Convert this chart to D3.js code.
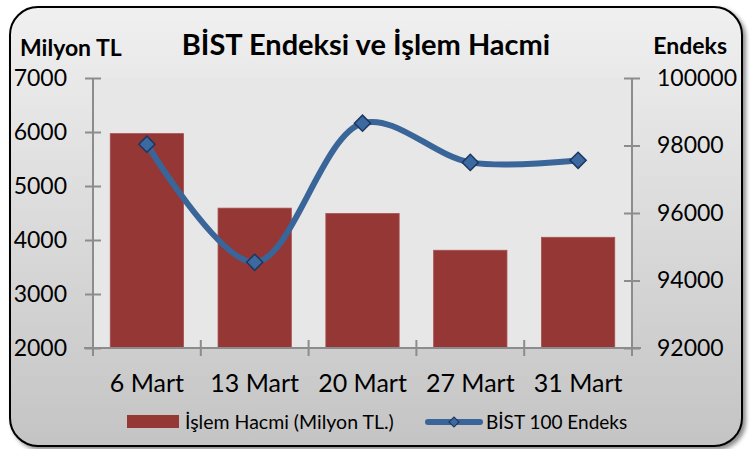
<!DOCTYPE html>
<html>
<head>
  <meta charset="utf-8">
  <title>BİST Endeksi ve İşlem Hacmi</title>
  <script src="https://d3js.org/d3.v7.min.js"></script>
  <style>
    body { margin: 0; background: #fff; }
    text { font-family: Lato, "Open Sans", sans-serif; fill: #000; }
    .axis path, .axis line { stroke: #8c8c8c; stroke-width: 2; }
  </style>
</head>
<body>
  <script>
    var dates = ["6 Mart", "13 Mart", "20 Mart", "27 Mart", "31 Mart"];
    var volume = [5970, 4590, 4490, 3810, 4050];
    var bist100 = [98040, 94540, 98660, 97500, 97560];
    var volumeTicks = [2000, 3000, 4000, 5000, 6000, 7000];
    var indexTicks = [92000, 94000, 96000, 98000, 100000];

    var W = 753, H = 449;
    var margin = {top: 78, right: 121, bottom: 101, left: 93},
        width = W - margin.left - margin.right,
        height = H - margin.top - margin.bottom;

    var svg = d3.select("body").append("svg")
        .attr("width", W)
        .attr("height", H);

    var defs = svg.append("defs");
    var grad = defs.append("linearGradient")
        .attr("id", "bg").attr("x1", 0).attr("y1", 0).attr("x2", 0).attr("y2", 1);
    grad.append("stop").attr("offset", "0%").attr("stop-color", "#f0f0f0");
    grad.append("stop").attr("offset", "100%").attr("stop-color", "#c4c4c4");
    var shadow = defs.append("filter").attr("id", "shadow")
        .attr("x", "-5%").attr("y", "-5%").attr("width", "110%").attr("height", "110%");
    shadow.append("feDropShadow")
        .attr("dx", 3).attr("dy", 3).attr("stdDeviation", 2)
        .attr("flood-color", "#000").attr("flood-opacity", 0.45);

    // chart frame
    svg.append("rect")
        .attr("x", 10).attr("y", 7)
        .attr("width", 732).attr("height", 439)
        .attr("rx", 28).attr("ry", 28)
        .attr("fill", "url(#bg)")
        .attr("stroke", "#000")
        .attr("stroke-width", 2)
        .attr("filter", "url(#shadow)");

    var g = svg.append("g")
        .attr("transform", "translate(" + margin.left + "," + margin.top + ")");

    g.append("rect")
        .attr("width", width)
        .attr("height", height)
        .attr("fill", "#e7e7e7");

    var x = d3.scaleBand()
        .domain(dates)
        .range([0, width])
        .paddingInner(0.32)
        .paddingOuter(0.16);

    var yL = d3.scaleLinear().domain([2000, 7000]).range([height, 0]);
    var yR = d3.scaleLinear().domain([92000, 100000]).range([height, 0]);

    // bars
    g.selectAll(".bar")
      .data(dates)
      .enter().append("rect")
        .attr("class", "bar")
        .attr("x", d => x(d))
        .attr("y", (d, i) => yL(volume[i]))
        .attr("width", x.bandwidth())
        .attr("height", (d, i) => height - yL(volume[i]))
        .attr("fill", "#953735")
        .attr("stroke", "#a8504e")
        .attr("stroke-width", 0.8);

    // left axis
    var leftAxis = g.append("g")
        .attr("class", "axis")
        .call(d3.axisLeft(yL).tickValues(volumeTicks).tickFormat(d3.format("d"))
          .tickSize(8).tickPadding(18).tickSizeOuter(0));
    leftAxis.selectAll(".tick line").attr("x1", 8);
    leftAxis.selectAll("text").style("font-size", "23px");
    leftAxis.select(".domain").attr("d", "M0," + (height + 8) + "V0");

    // right axis
    var rightAxis = g.append("g")
        .attr("class", "axis")
        .attr("transform", "translate(" + width + ",0)")
        .call(d3.axisRight(yR).tickValues(indexTicks).tickFormat(d3.format("d"))
          .tickSize(8).tickPadding(17).tickSizeOuter(0));
    rightAxis.selectAll(".tick line").attr("x1", -8);
    rightAxis.selectAll("text").style("font-size", "23px");
    rightAxis.select(".domain").attr("d", "M0," + (height + 8) + "V0");

    // bottom axis
    var bottomAxis = g.append("g")
        .attr("class", "axis")
        .attr("transform", "translate(0," + height + ")")
        .call(d3.axisBottom(x).tickSize(0).tickPadding(26));
    bottomAxis.select(".domain").attr("d", "M-9,0H" + (width + 9));
    bottomAxis.selectAll("text").style("font-size", "25px");

    var bounds = dates.map(d => x(d) - x.step() * x.paddingInner() / 2).concat([width]);
    bottomAxis.selectAll(".bound")
      .data(bounds)
      .enter().append("line")
        .attr("class", "bound")
        .attr("x1", d => d).attr("x2", d => d)
        .attr("y1", -8).attr("y2", 8);

    // index line
    var line = d3.line()
        .x((d, i) => x(dates[i]) + x.bandwidth() / 2)
        .y(d => yR(d))
        .curve(d3.curveCatmullRom.alpha(0.5));

    g.append("path")
        .datum(bist100)
        .attr("fill", "none")
        .attr("stroke", "#3a6599")
        .attr("stroke-width", 6)
        .attr("stroke-linecap", "round")
        .attr("d", line);

    var diamond = d3.symbol().type(d3.symbolSquare).size(130);
    g.selectAll(".marker")
      .data(bist100)
      .enter().append("path")
        .attr("class", "marker")
        .attr("d", diamond)
        .attr("transform", (d, i) => "translate(" + (x(dates[i]) + x.bandwidth() / 2) + "," + yR(d) + ") rotate(45)")
        .attr("fill", "#3d69a1")
        .attr("stroke", "#1c3660")
        .attr("stroke-width", 1.5);

    // titles
    svg.append("text")
        .attr("x", 366).attr("y", 55)
        .attr("text-anchor", "middle")
        .style("font-size", "29px").style("font-weight", "bold")
        .text("BİST Endeksi ve İşlem Hacmi");
    svg.append("text")
        .attr("x", 20).attr("y", 56)
        .style("font-size", "23px").style("font-weight", "bold")
        .text("Milyon TL");
    svg.append("text")
        .attr("x", 727).attr("y", 54)
        .attr("text-anchor", "end")
        .style("font-size", "23px").style("font-weight", "bold")
        .text("Endeks");

    // legend
    var legend = svg.append("g").attr("transform", "translate(0,422)");
    legend.append("rect")
        .attr("x", 127).attr("y", -7)
        .attr("width", 52).attr("height", 13)
        .attr("fill", "#953735");
    legend.append("text")
        .attr("x", 185).attr("y", 7)
        .style("font-size", "19.5px")
        .text("İşlem Hacmi (Milyon TL.)");
    legend.append("line")
        .attr("x1", 428).attr("x2", 480)
        .attr("y1", 0).attr("y2", 0)
        .attr("stroke", "#3a6599")
        .attr("stroke-width", 6)
        .attr("stroke-linecap", "round");
    legend.append("path")
        .attr("d", d3.symbol().type(d3.symbolSquare).size(50))
        .attr("transform", "translate(454,0) rotate(45)")
        .attr("fill", "#3d69a1")
        .attr("stroke", "#1c3660")
        .attr("stroke-width", 1.2);
    legend.append("text")
        .attr("x", 486).attr("y", 7)
        .style("font-size", "19px")
        .text("BİST 100 Endeks");
  </script>
</body>
</html>
